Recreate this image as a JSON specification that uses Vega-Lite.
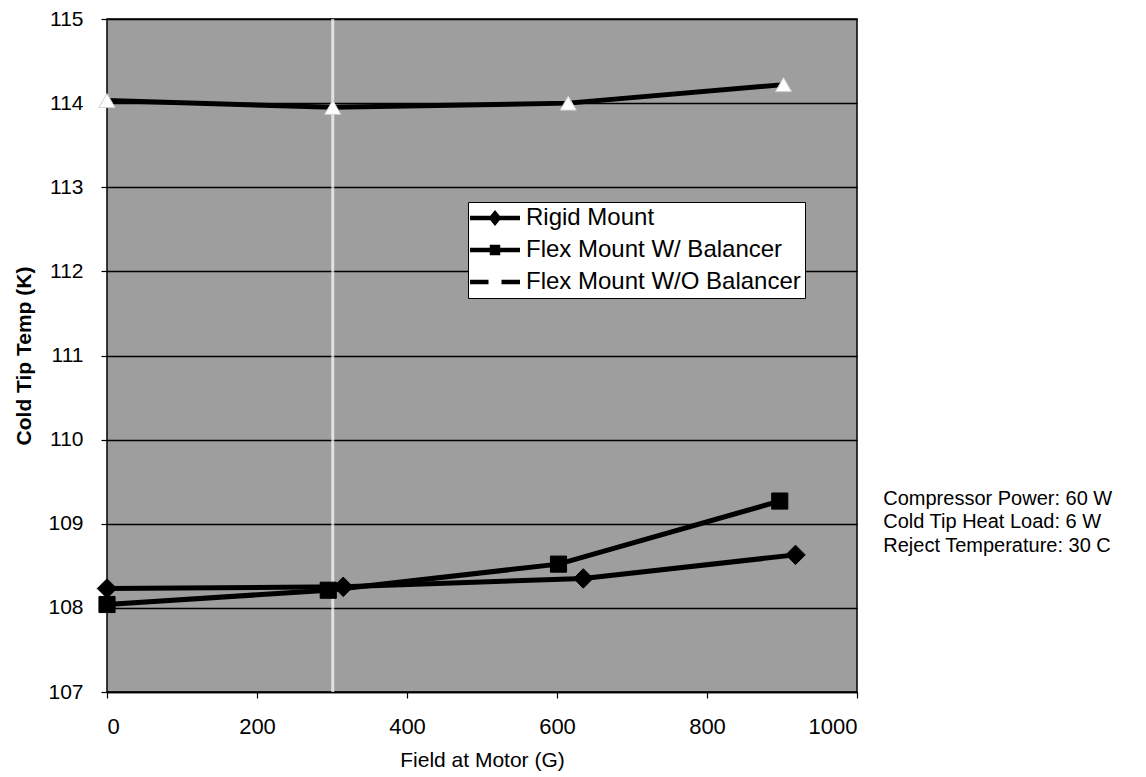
{
  "$schema": "https://vega.github.io/schema/vega-lite/v6.json",
  "width": 750,
  "height": 673,
  "autosize": {"type": "none"},
  "padding": {"left": 107, "top": 19, "right": 289, "bottom": 85},
  "background": "white",
  "config": {
    "font": "Liberation Sans",
    "view": {"fill": "#9e9e9e", "stroke": "black", "strokeWidth": 1.5},
    "axis": {
      "labelFont": "Liberation Sans",
      "titleFont": "Liberation Sans",
      "labelColor": "black",
      "titleColor": "black",
      "tickColor": "black",
      "domainColor": "black",
      "gridColor": "black",
      "gridWidth": 1.5,
      "gridOpacity": 1,
      "tickSize": 6,
      "tickWidth": 1.2
    }
  },
  "datasets": {
    "series": [
      {"series": "Rigid Mount", "field": 0, "temp": 108.23},
      {"series": "Rigid Mount", "field": 315, "temp": 108.25},
      {"series": "Rigid Mount", "field": 635, "temp": 108.35},
      {"series": "Rigid Mount", "field": 918, "temp": 108.63},
      {"series": "Flex Mount W/ Balancer", "field": 0, "temp": 108.04},
      {"series": "Flex Mount W/ Balancer", "field": 295, "temp": 108.21},
      {"series": "Flex Mount W/ Balancer", "field": 602, "temp": 108.52},
      {"series": "Flex Mount W/ Balancer", "field": 897, "temp": 109.27},
      {"series": "Flex Mount W/O Balancer", "field": 0, "temp": 114.03},
      {"series": "Flex Mount W/O Balancer", "field": 301, "temp": 113.95},
      {"series": "Flex Mount W/O Balancer", "field": 615, "temp": 114.0},
      {"series": "Flex Mount W/O Balancer", "field": 902, "temp": 114.22}
    ],
    "notes": [
      {"field": 1035, "temp": 109.3, "text": "Compressor Power: 60 W"},
      {"field": 1035, "temp": 109.02, "text": "Cold Tip Heat Load: 6 W"},
      {"field": 1035, "temp": 108.74, "text": "Reject Temperature: 30 C"}
    ],
    "streak": [{"field": 301}]
  },
  "layer": [
    {
      "data": {"name": "streak"},
      "mark": {"type": "rule", "color": "white", "strokeWidth": 3, "opacity": 0.7},
      "encoding": {
        "x": {"field": "field", "type": "quantitative", "scale": {"domain": [0, 1000], "nice": false, "zero": false},
          "axis": {"values": [0, 200, 400, 600, 800, 1000], "format": "d", "grid": false, "labelFontSize": 22, "labelPadding": 18,
            "title": "Field at Motor (G)", "titleFontSize": 21, "titleFontWeight": "normal", "titlePadding": 12, "domain": true, "domainWidth": 1.5}}
      }
    },
    {
      "data": {"name": "series"},
      "mark": {"type": "line", "color": "black", "strokeWidth": 5},
      "encoding": {
        "x": {"field": "field", "type": "quantitative"},
        "y": {"field": "temp", "type": "quantitative", "scale": {"domain": [107, 115], "nice": false, "zero": false},
          "axis": {"values": [107, 108, 109, 110, 111, 112, 113, 114, 115], "format": "d", "grid": true, "labelFontSize": 21, "labelPadding": 18,
            "title": "Cold Tip Temp (K)", "titleFontSize": 21, "titleFontWeight": "bold", "titlePadding": 13, "domain": false}},
        "detail": {"field": "series"}
      }
    },
    {
      "data": {"name": "series"},
      "mark": {"type": "point", "filled": true, "opacity": 1, "strokeWidth": 1},
      "encoding": {
        "x": {"field": "field", "type": "quantitative"},
        "y": {"field": "temp", "type": "quantitative"},
        "shape": {"condition": [
            {"test": "datum.series === 'Rigid Mount'", "value": "diamond"},
            {"test": "datum.series === 'Flex Mount W/ Balancer'", "value": "square"}
          ], "value": "triangle-up"},
        "fill": {"condition": {"test": "datum.series === 'Flex Mount W/O Balancer'", "value": "white"}, "value": "black"},
        "stroke": {"condition": {"test": "datum.series === 'Flex Mount W/O Balancer'", "value": "#d0d0d0"}, "value": "black"},
        "size": {"condition": {"test": "datum.series === 'Rigid Mount'", "value": 380}, "value": 260}
      }
    },
    {
      "data": {"name": "series"},
      "transform": [{"filter": "false"}],
      "mark": {"type": "point", "filled": true, "color": "black", "opacity": 1, "size": 100},
      "encoding": {
        "x": {"field": "field", "type": "quantitative"},
        "y": {"field": "temp", "type": "quantitative"},
        "shape": {
          "field": "series", "type": "nominal",
          "scale": {
            "domain": ["Rigid Mount", "Flex Mount W/ Balancer", "Flex Mount W/O Balancer"],
            "range": [
              "M-5,-0.45H5V0.45H-5Z M0,-1.6L1.3,0L0,1.6L-1.3,0Z",
              "M-5,-0.45H5V0.45H-5Z M-1.05,-1.05H1.05V1.05H-1.05Z",
              "M-5,-0.45H-1.3V0.45H-5Z M1.3,-0.45H5V0.45H1.3Z"
            ]
          },
          "legend": {
            "title": null,
            "orient": "none",
            "legendX": 361,
            "legendY": 183,
            "fillColor": "white",
            "strokeColor": "black",
            "padding": 4,
            "labelFontSize": 24,
            "labelFont": "Liberation Sans",
            "labelColor": "black",
            "labelLimit": 500,
            "symbolSize": 100,
            "symbolOffset": 11,
            "labelOffset": 19,
            "rowPadding": 8,
            "symbolFillColor": "black",
            "symbolStrokeWidth": 0
          }
        }
      }
    },
    {
      "data": {"name": "notes"},
      "mark": {"type": "text", "align": "left", "baseline": "middle", "fontSize": 20, "font": "Liberation Sans", "color": "black", "clip": false},
      "encoding": {
        "x": {"field": "field", "type": "quantitative"},
        "y": {"field": "temp", "type": "quantitative"},
        "text": {"field": "text"}
      }
    }
  ]
}
